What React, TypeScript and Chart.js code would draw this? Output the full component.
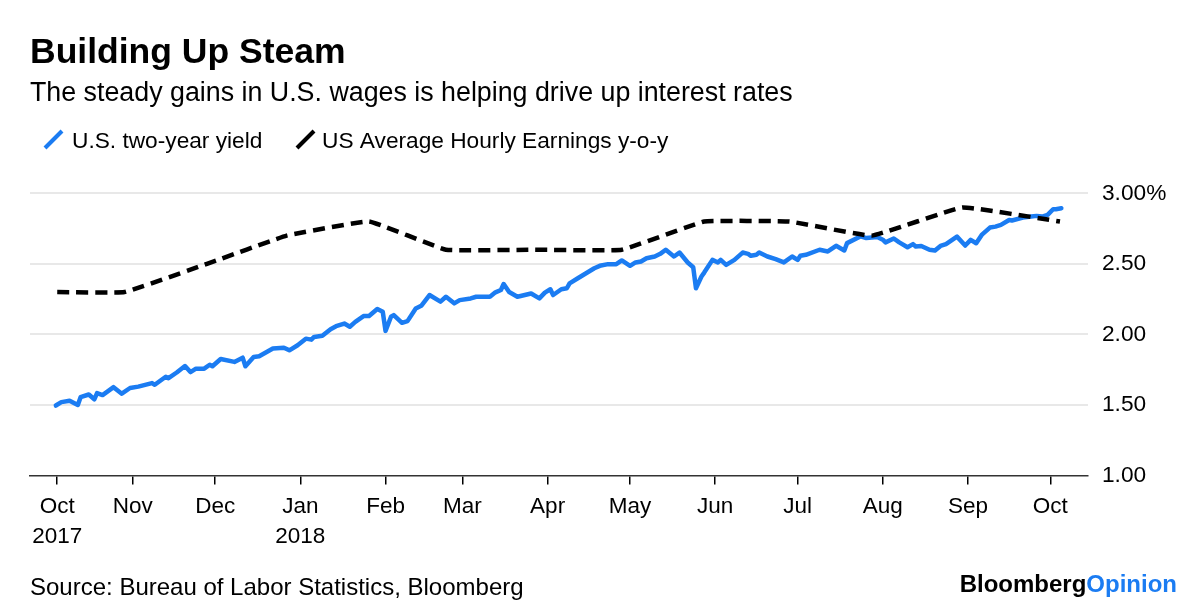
import React, { useEffect, useRef } from "react";
import { Chart, registerables } from "chart.js";

Chart.register(...registerables);

const FONT = "'Liberation Sans', Arial, sans-serif";
const BLUE = "#1b7cf2";
const BLACK = "#000000";

const chartTitle = "Building Up Steam";
const chartSubtitle = "The steady gains in U.S. wages is helping drive up interest rates";
const seriesNames = ["U.S. two-year yield", "US Average Hourly Earnings y-o-y"];
const sourceText = "Source: Bureau of Labor Statistics, Bloomberg";
const logoParts = ["Bloomberg", "Opinion"];

// x values are days since 1 Oct 2017
const tickDays = [3.5, 31, 61, 92, 123, 151, 182, 212, 243, 273, 304, 335, 365];
const tickLabels: (string | string[])[] = [
  ["Oct", "2017"], "Nov", "Dec", ["Jan", "2018"], "Feb", "Mar", "Apr", "May", "Jun", "Jul", "Aug", "Sep", "Oct",
];
const yTicks = [1, 1.5, 2, 2.5, 3];

const yieldDays = [
  3, 5, 8, 11, 12, 15, 17, 18, 20, 24, 27, 30, 33, 38, 39, 43, 44, 47, 50, 52, 54, 57, 59, 60, 63, 68, 71, 72, 75, 77,
  82, 86, 88, 91, 94, 96, 97, 100, 103, 105, 108, 110, 112, 115, 117, 120, 122, 123, 125, 126, 129, 131, 134, 136, 139,
  143, 145, 148, 150, 154, 156, 161, 163, 165, 166, 168, 171, 176, 179, 181, 183, 184, 187, 189, 190, 193, 196, 199, 201,
  204, 207, 209, 212, 214, 216, 218, 221, 223, 225, 228, 230, 233, 235, 236, 238, 239, 242, 244, 245, 247, 250, 253, 255,
  256, 258, 259, 262, 265, 268, 271, 273, 274, 276, 281, 284, 287, 290, 291, 296, 298, 302, 304, 305, 308, 310, 313, 315,
  316, 318, 321, 323, 325, 327, 331, 334, 336, 338, 340, 343, 345, 347, 350, 351, 355, 358, 360, 362, 364, 366, 367, 369,
];
const yieldValues = [
  1.496, 1.52, 1.53, 1.5, 1.555, 1.574, 1.54, 1.584, 1.57, 1.626, 1.58, 1.62, 1.63, 1.655, 1.643, 1.7, 1.69, 1.73, 1.776,
  1.733, 1.757, 1.757, 1.785, 1.774, 1.826, 1.805, 1.835, 1.774, 1.84, 1.845, 1.9, 1.906, 1.887, 1.923, 1.97, 1.963, 1.982,
  1.99, 2.037, 2.058, 2.077, 2.054, 2.089, 2.13, 2.13, 2.18, 2.16, 2.025, 2.125, 2.137, 2.082, 2.094, 2.184, 2.203, 2.279,
  2.232, 2.267, 2.22, 2.243, 2.255, 2.267, 2.267, 2.298, 2.315, 2.357, 2.3, 2.267, 2.29, 2.255, 2.296, 2.32, 2.279, 2.32,
  2.327, 2.362, 2.398, 2.433, 2.469, 2.486, 2.498, 2.498, 2.524, 2.486, 2.51, 2.517, 2.54, 2.552, 2.571, 2.6, 2.552, 2.58,
  2.51, 2.476, 2.327, 2.41, 2.438, 2.528, 2.51, 2.528, 2.493, 2.528, 2.58, 2.571, 2.557, 2.564, 2.58, 2.552, 2.533, 2.51,
  2.552, 2.528, 2.557, 2.564, 2.6, 2.588, 2.628, 2.595, 2.647, 2.695, 2.683, 2.69, 2.671, 2.652, 2.68, 2.652, 2.618, 2.64,
  2.623, 2.627, 2.6, 2.594, 2.627, 2.64, 2.693, 2.63, 2.67, 2.646, 2.705, 2.757, 2.764, 2.776, 2.811, 2.807, 2.828, 2.835,
  2.84, 2.835, 2.847, 2.887, 2.887, 2.894,
];

const earningsDays = [3.5, 28, 58, 87, 117, 145, 177, 209, 239, 270, 300, 333, 368.5];
const earningsValues = [2.3, 2.3, 2.5, 2.7, 2.8, 2.6, 2.6, 2.6, 2.8, 2.8, 2.7, 2.9, 2.8];

const textPlugin = {
  id: "bbTexts",
  afterDraw(chart: any) {
    const ctx = chart.ctx as CanvasRenderingContext2D;
    ctx.save();
    ctx.textAlign = "left";
    ctx.textBaseline = "alphabetic";
    ctx.fillStyle = "#000";
    ctx.font = `bold 35.5px ${FONT}`;
    ctx.fillText(chartTitle, 30, 62.5);
    ctx.font = `26.8px ${FONT}`;
    ctx.fillText(chartSubtitle, 30, 101);

    // legend
    const drawSlash = (x: number, color: string) => {
      ctx.beginPath();
      ctx.strokeStyle = color;
      ctx.lineWidth = 4;
      ctx.lineCap = "butt";
      ctx.moveTo(x, 148);
      ctx.lineTo(x + 17, 131);
      ctx.stroke();
    };
    ctx.font = `22.7px ${FONT}`;
    drawSlash(45, BLUE);
    ctx.fillText(seriesNames[0], 72, 147.5);
    drawSlash(297, BLACK);
    ctx.fillText(seriesNames[1], 322, 147.5);

    // source
    ctx.font = `24px ${FONT}`;
    ctx.fillText(sourceText, 30, 595);

    // logo
    ctx.font = `bold 24px ${FONT}`;
    const w1 = ctx.measureText(logoParts[0]).width;
    const w2 = ctx.measureText(logoParts[1]).width;
    const x0 = 1177 - w1 - w2;
    ctx.fillStyle = "#000";
    ctx.fillText(logoParts[0], x0, 592);
    ctx.fillStyle = BLUE;
    ctx.fillText(logoParts[1], x0 + w1, 592);
    ctx.restore();
  },
};

export default function App() {
  const ref = useRef<HTMLCanvasElement>(null);
  useEffect(() => {
    const canvas = ref.current;
    if (!canvas) return;
    const chart = new Chart(canvas, {
      type: "line",
      data: {
        datasets: [
          {
            label: seriesNames[1],
            data: earningsDays.map((d, i) => ({ x: d, y: earningsValues[i] })),
            borderColor: BLACK,
            borderWidth: 4.5,
            borderDash: [12, 7],
            tension: 0.08,
            pointRadius: 0,
            fill: false,
          },
          {
            label: seriesNames[0],
            data: yieldDays.map((d, i) => ({ x: d, y: yieldValues[i] })),
            borderColor: BLUE,
            borderWidth: 4.5,
            tension: 0,
            pointRadius: 0,
            fill: false,
            borderJoinStyle: "round",
            borderCapStyle: "round",
          },
        ],
      },
      options: {
        responsive: false,
        animation: false,
        devicePixelRatio: 1,
        layout: { padding: { left: 30, top: 193.3, right: 0, bottom: 0 } },
        plugins: {
          legend: { display: false },
          tooltip: { enabled: false },
          title: { display: false },
        },
        scales: {
          x: {
            type: "linear",
            min: -6.41,
            max: 378.7,
            afterBuildTicks: (s: any) => {
              s.ticks = tickDays.map((v) => ({ value: v }));
            },
            afterFit: (s: any) => {
              s.height = 136.5;
            },
            ticks: {
              autoSkip: false,
              maxRotation: 0,
              minRotation: 0,
              padding: 8,
              color: "#000",
              font: { family: FONT, size: 22.5, lineHeight: 1.3 },
              callback: (_v: any, i: number) => tickLabels[i],
            },
            grid: {
              drawOnChartArea: false,
              drawTicks: true,
              tickLength: 9,
              color: "#000",
              lineWidth: 1.5,
            },
            border: { display: true, color: "#333", width: 1.5 },
          },
          y: {
            position: "right",
            min: 1,
            max: 3,
            afterBuildTicks: (s: any) => {
              s.ticks = yTicks.map((v) => ({ value: v }));
            },
            afterFit: (s: any) => {
              s.width = 112;
            },
            ticks: {
              padding: 14,
              color: "#000",
              font: { family: FONT, size: 22.7 },
              callback: (v: any) => (Number(v) === 3 ? "3.00%" : Number(v).toFixed(2)),
            },
            grid: {
              drawTicks: false,
              lineWidth: 2,
              color: (c: any) => (c.tick && c.tick.value === 1 ? "rgba(0,0,0,0)" : "#e8e8e8"),
            },
            border: { display: false },
          },
        },
      },
      plugins: [textPlugin],
    } as any);
    return () => chart.destroy();
  }, []);
  return (
    <div style={{ position: "fixed", left: 0, top: 0, width: 1200, height: 612, background: "#fff" }}>
      <canvas ref={ref} width={1200} height={612} style={{ display: "block" }} />
    </div>
  );
}
